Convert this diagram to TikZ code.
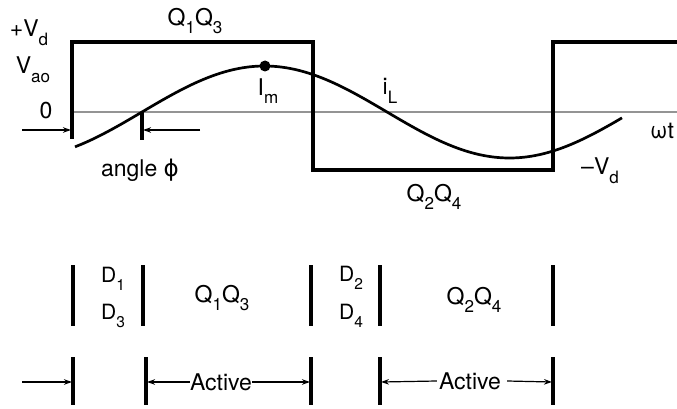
\documentclass[tikz,border=0pt]{standalone}
\usepackage{fontspec}
\setmainfont{TeX Gyre Heros}
\newfontfamily\phifont{DejaVu Sans}
\usetikzlibrary{arrows.meta}
\newcommand\sbs[1]{\raisebox{-0.38em}{\scalebox{0.74}{#1}}}
\tikzset{
  lbl/.style={inner sep=0pt, font=\fontsize{23}{25}\selectfont},
  dlbl/.style={inner sep=0pt, font=\fontsize{21}{23}\selectfont},
  wave/.style={line width=4.4pt, line join=miter},
  bar/.style={line width=3.2pt},
  curve/.style={line width=2.7pt},
  axis/.style={line width=1.8pt, draw=black!42},
  arr/.style={line width=1.2pt, -{Stealth[length=8pt,width=5.5pt]}},
}
\begin{document}
\begin{tikzpicture}[x=1pt,y=-1pt]
\useasboundingbox (0,0) rectangle (677,409);
% axis
\coordinate (ax0) at (72,112);
\coordinate (ax1) at (677,112);
\draw[axis] (ax0) -- (ax1);
% square wave
\coordinate (w0) at (72,139);
\coordinate (w1) at (72,42);
\coordinate (w2) at (313,42);
\coordinate (w3) at (313,170);
\coordinate (w4) at (553,170);
\coordinate (w5) at (553,42);
\coordinate (w6) at (680,42);
\draw[wave] (w0) -- (w1) -- (w2) -- (w3) -- (w4) -- (w5) -- (w6);
% current
\draw[curve, domain=75:622, samples=120, smooth] plot (\x, {112 - 46*sin((\x-142)/245*180)});
\node[circle, fill=black, inner sep=0pt, minimum size=11pt] (im) at (265,66) {};
% phase markers
\coordinate (t0) at (142,112);
\coordinate (t1) at (142,140);
\draw[bar] (t0) -- (t1);
\coordinate (a0) at (22,130);
\coordinate (a1) at (71,130);
\coordinate (a2) at (200,130);
\coordinate (a3) at (143,130);
\draw[arr] (a0) -- (a1);
\draw[arr] (a2) -- (a3);
% labels
\node[lbl] (q13) at (195,21) {Q\sbs{1}Q\sbs{3}};
\node[lbl] (vd) at (29,33) {+V\sbs{d}};
\node[lbl] (vao) at (33,70) {V\sbs{ao}};
\node[lbl] (zero) at (46,111) {0};
\node[lbl] (iml) at (268,91) {I\sbs{m}};
\node[lbl] (il) at (390,91) {i\sbs{L}};
\node[lbl] (ang) at (140,170) {angle {\phifont ϕ}};
\node[lbl] (q24) at (434,197) {Q\sbs{2}Q\sbs{4}};
\node[lbl] (mvd) at (600,171) {\textendash V\sbs{d}};
\node[lbl, anchor=west] (wt) at (650,131) {ωt};
% bottom row 1
\foreach \n/\xx in {r1a/73, r1b/143, r1c/311, r1d/380, r1e/553}{
  \coordinate (\n t) at (\xx,265);
  \coordinate (\n b) at (\xx,326);
  \draw[bar] (\n t) -- (\n b);
}
\node[dlbl] (d1) at (113,279) {D\sbs{1}};
\node[dlbl] (d3) at (113,316) {D\sbs{3}};
\node[lbl] (q13b) at (222,298) {Q\sbs{1}Q\sbs{3}};
\node[dlbl] (d2) at (351,278) {D\sbs{2}};
\node[dlbl] (d4) at (351,316) {D\sbs{4}};
\node[lbl] (q24b) at (474,300) {Q\sbs{2}Q\sbs{4}};
% bottom row 2
\foreach \n/\xx in {r2a/73, r2b/146, r2c/311, r2d/380, r2e/553}{
  \coordinate (\n t) at (\xx,357);
  \coordinate (\n b) at (\xx,405);
  \coordinate (\n m) at (\xx,382);
  \draw[bar] (\n t) -- (\n b);
}
\coordinate (s0) at (22,382);
\draw[arr] (s0) -- ([xshift=-1pt]r2am);
\node[lbl] (act1) at (221,382) {Active};
\draw[arr] (act1.west) -- ([xshift=1pt]r2bm);
\draw[arr] (act1.east) -- ([xshift=-1pt]r2cm);
\node[lbl] (act2) at (470,381) {Active};
\draw[arr] ([xshift=-2pt]act2.west) -- ([xshift=1pt]r2dm);
\draw[arr] ([xshift=6pt]act2.east) -- ([xshift=-1pt]r2em);
\end{tikzpicture}
\end{document}
